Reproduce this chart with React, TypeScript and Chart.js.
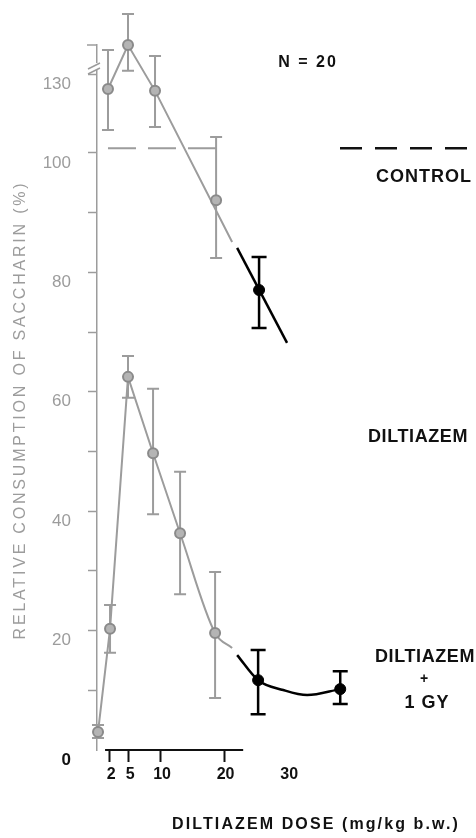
import React, { useEffect, useRef } from 'react';
import { Chart, registerables, LinearScale } from 'chart.js';

Chart.register(...registerables);

// ---------- data ----------
// Diltiazem alone (upper curve, gray)
const upperDose = [1.73, 4.88, 9.13, 18.74];
const upperMean = [124.3, 141.0, 123.6, 92.1];
const upperLow = [108.7, 131.2, 109.9, 82.4];
const upperHigh = [139.1, 152.8, 136.8, 106.1];
const upperLineDose = [1.73, 4.88, 9.13, 21.26];
const upperLineVal = [124.3, 141.0, 123.6, 85.1];
// upper curve, black part
const upperBlackDose = [25.5];
const upperBlackMean = [77.05];
const upperBlackLow = [70.7];
const upperBlackHigh = [82.6];
const upperBlackLineDose = [22.05, 29.9];
const upperBlackLineVal = [84.1, 68.2];

// lower curve (gray)
const lowerDose = [0.16, 2.05, 4.88, 8.82, 13.07, 18.58];
const lowerMean = [3.0, 20.3, 62.5, 49.7, 36.3, 19.6];
const lowerLow = [2.0, 16.3, 59.0, 39.5, 26.1, 8.7];
const lowerHigh = [4.2, 24.3, 66.0, 60.5, 46.6, 29.8];
const lowerLineDose = [0.16, 2.05, 4.88, 8.82, 13.07];
const lowerLineVal = [3.0, 20.3, 62.5, 49.7, 36.3];
const lowerTailDose = [13.07, 18.58, 21.26];
const lowerTailVal = [36.3, 19.6, 17.1];
// lower curve (black, Diltiazem + 1 Gy)
const lowerBlackDose = [25.35, 38.27];
const lowerBlackMean = [11.7, 10.2];
const lowerBlackLow = [6.0, 7.7];
const lowerBlackHigh = [16.75, 13.2];
const lowerBlackCurveDose = [22.05, 25.35, 29.3, 33.07, 38.27];
const lowerBlackCurveVal = [15.9, 11.7, 10.05, 9.2, 10.2];

// control level
const controlDose = [1.73, 20.5];
const controlValue = 101.8;

// axes
const yTicks = [0, 10, 20, 30, 40, 50, 60, 70, 80, 90, 100, 130];
const yLabeled = [0, 20, 40, 60, 80, 100, 130];
const xTicks = [2, 5, 10, 20, 30];
const xAxisLineRange = [1.27, 23];

const yTitle = 'RELATIVE CONSUMPTION OF SACCHARIN (%)';
const xTitle = 'DILTIAZEM DOSE (mg/kg b.w.)';

// ---------- broken y scale (compressed above 100) ----------
const BREAK_AT = 100;
const BREAK_K = 0.441;
const fwd = (v: number) => (v <= BREAK_AT ? v : BREAK_AT + (v - BREAK_AT) * BREAK_K);
const inv = (t: number) => (t <= BREAK_AT ? t : BREAK_AT + (t - BREAK_AT) / BREAK_K);

class BrokenLinearScale extends (LinearScale as any) {
  getPixelForValue(value: any) {
    if (value === null || value === undefined) return NaN;
    return super.getPixelForValue(fwd(value));
  }
  getValueForPixel(pixel: number) {
    return inv(super.getValueForPixel(pixel));
  }
}
(BrokenLinearScale as any).id = 'brokenLinear';
(BrokenLinearScale as any).defaults = (LinearScale as any).defaults;
Chart.register(BrokenLinearScale as any);

const GRAY = '#9c9c9c';
const GRAY_DARK = '#8a8a8a';
const FONT = '"Liberation Sans", Arial, sans-serif';

const pts = (xs: number[], ys: number[]) => xs.map((x, i) => ({ x, y: ys[i] }));

const errorBarsPlugin = {
  id: 'errorBars',
  beforeDatasetsDraw(chart: any) {
    const { ctx } = chart;
    const xs = chart.scales.x;
    const ys = chart.scales.y;
    chart.data.datasets.forEach((ds: any) => {
      if (!ds.errLo) return;
      ctx.save();
      ctx.strokeStyle = ds.errColor;
      ctx.lineWidth = ds.errWidth;
      const c = ds.capHalf;
      ds.data.forEach((p: any, j: number) => {
        const px = xs.getPixelForValue(p.x);
        const yLo = ys.getPixelForValue(ds.errLo[j]);
        const yHi = ys.getPixelForValue(ds.errHi[j]);
        ctx.beginPath();
        ctx.moveTo(px, yLo);
        ctx.lineTo(px, yHi);
        ctx.moveTo(px - c, yLo);
        ctx.lineTo(px + c, yLo);
        ctx.moveTo(px - c, yHi);
        ctx.lineTo(px + c, yHi);
        ctx.stroke();
      });
      ctx.restore();
    });
  },
};

const decorPlugin = {
  id: 'decor',
  afterDraw(chart: any) {
    const { ctx, chartArea } = chart;
    const xs = chart.scales.x;
    const ys = chart.scales.y;
    ctx.save();
    // x axis line
    ctx.strokeStyle = '#111';
    ctx.lineWidth = 2;
    ctx.beginPath();
    const y0 = ys.getPixelForValue(0);
    ctx.moveTo(xs.getPixelForValue(xAxisLineRange[0]), y0);
    ctx.lineTo(xs.getPixelForValue(xAxisLineRange[1]), y0);
    ctx.stroke();

    // y axis top cap and break
    const left = chartArea.left;
    ctx.strokeStyle = GRAY;
    ctx.lineWidth = 1.5;
    ctx.beginPath();
    ctx.moveTo(left - 10, chartArea.top);
    ctx.lineTo(left, chartArea.top);
    ctx.stroke();
    const yb = ys.getPixelForValue(130) - 6;
    ctx.fillStyle = '#fff';
    ctx.fillRect(left - 3, yb - 5, 6, 7);
    ctx.beginPath();
    ctx.moveTo(left - 9, yb + 1);
    ctx.lineTo(left + 3, yb - 5);
    ctx.moveTo(left - 9, yb + 6);
    ctx.lineTo(left + 3, yb);
    ctx.stroke();

    // control legend dash
    const yc = ys.getPixelForValue(controlValue);
    ctx.strokeStyle = '#111';
    ctx.lineWidth = 2.5;
    ctx.setLineDash([22, 13]);
    ctx.beginPath();
    ctx.moveTo(340, yc);
    ctx.lineTo(468, yc);
    ctx.stroke();
    ctx.setLineDash([]);

    // texts
    const txt = (s: string, x: number, y: number, font: string, color: string, ls: string) => {
      ctx.font = font;
      ctx.fillStyle = color;
      (ctx as any).letterSpacing = ls;
      ctx.textAlign = 'center';
      ctx.textBaseline = 'middle';
      ctx.fillText(s, x, y);
    };
    txt('N = 20', 308, 63, `bold 16px ${FONT}`, '#111', '2px');
    txt('CONTROL', 424, 177, `bold 18px ${FONT}`, '#111', '1px');
    txt('DILTIAZEM', 418, 437, `bold 18px ${FONT}`, '#111', '0.6px');
    txt('DILTIAZEM', 425, 657, `bold 18px ${FONT}`, '#111', '0.6px');
    txt('+', 424, 679, `bold 14px ${FONT}`, '#111', '0px');
    txt('1 GY', 427, 703, `bold 18px ${FONT}`, '#111', '1px');
    txt(xTitle, 316, 825, `bold 16px ${FONT}`, '#111', '2.1px');

    ctx.save();
    ctx.translate(21, 410);
    ctx.rotate(-Math.PI / 2);
    txt(yTitle, 0, 0, `16px ${FONT}`, GRAY, '2.8px');
    ctx.restore();

    (ctx as any).letterSpacing = '0px';
    ctx.restore();
  },
};

export default function App() {
  const ref = useRef<HTMLCanvasElement | null>(null);

  useEffect(() => {
    if (!ref.current) return;
    Chart.defaults.font.family = FONT;
    const grayPoints = {
      type: 'line',
      showLine: false,
      pointRadius: 5,
      pointBackgroundColor: '#b4b4b4',
      pointBorderColor: GRAY_DARK,
      pointBorderWidth: 2,
      errColor: GRAY,
      errWidth: 2,
      capHalf: 6,
      clip: false,
    };
    const blackPoints = {
      type: 'line',
      showLine: false,
      pointRadius: 5.5,
      pointBackgroundColor: '#000',
      pointBorderColor: '#000',
      pointBorderWidth: 1,
      errColor: '#000',
      errWidth: 2.5,
      capHalf: 7.5,
      clip: false,
    };
    const lineBase = { type: 'line', pointRadius: 0, clip: false, fill: false };

    const chart = new Chart(ref.current, {
      type: 'line',
      data: {
        datasets: [
          { ...grayPoints, label: 'Diltiazem (upper)', data: pts(upperDose, upperMean), errLo: upperLow, errHi: upperHigh },
          { ...blackPoints, label: 'Diltiazem + 1 Gy (upper)', data: pts(upperBlackDose, upperBlackMean), errLo: upperBlackLow, errHi: upperBlackHigh },
          { ...grayPoints, label: 'Diltiazem (lower)', data: pts(lowerDose, lowerMean), errLo: lowerLow, errHi: lowerHigh },
          { ...blackPoints, label: 'Diltiazem + 1 Gy (lower)', data: pts(lowerBlackDose, lowerBlackMean), errLo: lowerBlackLow, errHi: lowerBlackHigh },
          { ...lineBase, label: 'upper line', data: pts(upperLineDose, upperLineVal), borderColor: GRAY, borderWidth: 2, tension: 0 },
          { ...lineBase, label: 'upper black line', data: pts(upperBlackLineDose, upperBlackLineVal), borderColor: '#000', borderWidth: 2.5, tension: 0 },
          { ...lineBase, label: 'lower line', data: pts(lowerLineDose, lowerLineVal), borderColor: GRAY, borderWidth: 2, tension: 0 },
          { ...lineBase, label: 'lower tail', data: pts(lowerTailDose, lowerTailVal), borderColor: GRAY, borderWidth: 2, cubicInterpolationMode: 'monotone' },
          { ...lineBase, label: 'lower black curve', data: pts(lowerBlackCurveDose, lowerBlackCurveVal), borderColor: '#000', borderWidth: 2.5, cubicInterpolationMode: 'monotone' },
          { ...lineBase, label: 'control', data: controlDose.map((x) => ({ x, y: controlValue })), borderColor: GRAY, borderWidth: 2, borderDash: [28, 12] },
        ] as any,
      },
      options: {
        animation: false,
        responsive: true,
        maintainAspectRatio: false,
        layout: { padding: { top: 45, right: 93, left: 0, bottom: 0 } },
        plugins: { legend: { display: false }, tooltip: { enabled: false }, title: { display: false } },
        events: [],
        scales: {
          x: {
            type: 'linear',
            min: 0,
            max: 45,
            bounds: 'data',
            afterFit: (s: any) => { s.height = 88; },
            afterBuildTicks: (s: any) => { s.ticks = xTicks.map((v) => ({ value: v })); },
            border: { display: false },
            grid: {
              drawOnChartArea: false,
              drawTicks: true,
              tickLength: 12,
              tickWidth: 2,
              tickColor: (c: any) => (c.tick && c.tick.value === 30 ? 'rgba(0,0,0,0)' : '#111'),
            },
            ticks: {
              autoSkip: false,
              maxRotation: 0,
              padding: 3,
              labelOffset: 1.5,
              color: '#111',
              font: { size: 16, weight: 'bold', family: FONT },
              callback: (v: any) => String(v),
            },
          },
          y: {
            type: 'brokenLinear',
            min: 0,
            max: 118.09,
            bounds: 'data',
            afterFit: (s: any) => { s.width = 97; },
            afterBuildTicks: (s: any) => { s.ticks = yTicks.map((v) => ({ value: v })); },
            border: { display: true, color: GRAY, width: 1.5 },
            grid: {
              drawOnChartArea: false,
              drawTicks: true,
              tickLength: 9,
              tickWidth: 1.5,
              tickColor: (c: any) => (c.tick && c.tick.value === 0 ? 'rgba(0,0,0,0)' : GRAY),
            },
            ticks: {
              autoSkip: false,
              padding: 17,
              labelOffset: 10,
              color: (c: any) => (c.tick && c.tick.value === 0 ? '#111' : GRAY),
              font: (c: any) =>
                c.tick && c.tick.value === 0
                  ? { size: 17, weight: 'bold', family: FONT }
                  : { size: 17, weight: 'normal', family: FONT },
              callback: (v: any) => (yLabeled.includes(v) ? String(v) : ''),
            },
          } as any,
        },
      },
      plugins: [errorBarsPlugin, decorPlugin],
    } as any);
    return () => chart.destroy();
  }, []);

  return (
    <div style={{ position: 'fixed', left: 0, top: 0, width: 476, height: 838, background: '#fff' }}>
      <canvas ref={ref} />
    </div>
  );
}
